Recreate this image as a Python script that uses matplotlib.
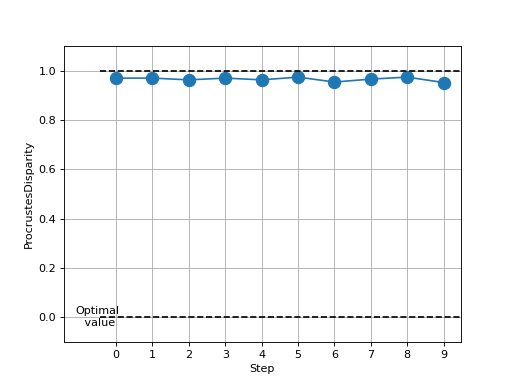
import numpy as np
import matplotlib.pyplot as plt

steps = [0, 1, 2, 3, 4, 5, 6, 7, 8, 9]
disparity = [0.970, 0.970, 0.963, 0.970, 0.963, 0.974, 0.954, 0.966, 0.974, 0.952]

fig, ax = plt.subplots(figsize=(6.4, 4.8), dpi=80)

ax.plot(steps, disparity, marker='o', markersize=11)
ax.hlines([1.0, 0.0], -0.44, 9.47, colors='k', linestyles='--')
ax.text(-0.5, 0, 'Optimal\n value', ha='center', va='center')

ax.set_xlim(-1.43, 9.47)
ax.set_ylim(-0.1, 1.1)
ax.set_xticks(steps)
ax.set_xlabel('Step')
ax.set_ylabel('ProcrustesDisparity')
ax.grid()

plt.savefig('out.png')
